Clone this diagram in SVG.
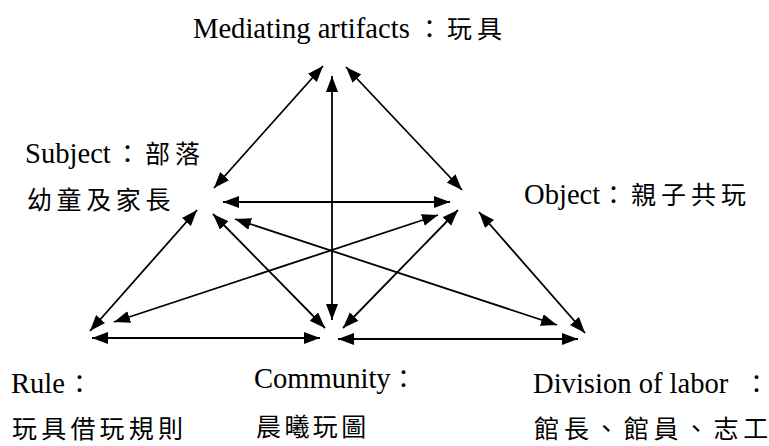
<svg xmlns="http://www.w3.org/2000/svg" width="769" height="446" viewBox="0 0 769 446">
<style>
  .lbl { font-family: "Liberation Serif", "Noto Sans CJK TC", serif; font-size: 28.6px; fill: #000; }
  .cjk { font-family: "Noto Sans CJK TC", "Noto Sans CJK JP", sans-serif; font-size: 25px; letter-spacing: 5px; }
  .c line { stroke: #000; stroke-width: 1.8; fill: none; marker-start: url(#ah); marker-end: url(#ah); }
</style>
<defs>
  <marker id="ah" markerUnits="userSpaceOnUse" markerWidth="17" markerHeight="13" refX="16" refY="6" orient="auto-start-reverse" viewBox="0 0 17 13">
    <path d="M0,0 L16,6 L0,12 z" fill="#000"/>
  </marker>
</defs>
<rect width="769" height="446" fill="#fff"/>
<g id="connectors" class="c">
  <line x1="323" y1="66" x2="214" y2="188"/>
  <line x1="346" y1="67" x2="462" y2="190"/>
  <line x1="332" y1="76" x2="332" y2="320"/>
  <line x1="223" y1="202" x2="450" y2="202"/>
  <line x1="197" y1="210" x2="90" y2="331"/>
  <line x1="213" y1="214" x2="325" y2="328"/>
  <line x1="235" y1="219" x2="557" y2="325"/>
  <line x1="438" y1="215" x2="114" y2="322"/>
  <line x1="458" y1="210" x2="343" y2="328"/>
  <line x1="479" y1="212" x2="585" y2="333"/>
  <line x1="92" y1="338" x2="320" y2="338"/>
  <line x1="338" y1="339" x2="578" y2="339"/>
</g>
<g id="mediating">
  <text class="lbl" x="193" y="38">Mediating artifacts<tspan class="cjk" x="417">：玩具</tspan></text>
</g>
<g id="subject">
  <text class="lbl" x="25" y="163">Subject<tspan class="cjk" x="115">：部落</tspan></text>
  <text class="lbl" x="27" y="209"><tspan class="cjk" style="letter-spacing:4.6px">幼童及家長</tspan></text>
</g>
<g id="object">
  <text class="lbl" x="524" y="204">Object<tspan class="cjk" x="601">：親子共玩</tspan></text>
</g>
<g id="rule">
  <text class="lbl" x="11" y="393">Rule<tspan class="cjk" x="67">：</tspan></text>
  <text class="lbl" x="12" y="438"><tspan class="cjk" style="letter-spacing:4.2px">玩具借玩規則</tspan></text>
</g>
<g id="community">
  <text class="lbl" x="254" y="388">Community<tspan class="cjk" x="391">：</tspan></text>
  <text class="lbl" x="256" y="436"><tspan class="cjk" style="letter-spacing:3.4px">晨曦玩圖</tspan></text>
</g>
<g id="division">
  <text class="lbl" x="533" y="393">Division of labor<tspan class="cjk" x="744" style="letter-spacing:0">：</tspan></text>
  <text class="lbl" x="534" y="438"><tspan class="cjk" style="letter-spacing:4.9px">館長、館員、志</tspan><tspan class="cjk" style="letter-spacing:0">工</tspan></text>
</g>
</svg>
